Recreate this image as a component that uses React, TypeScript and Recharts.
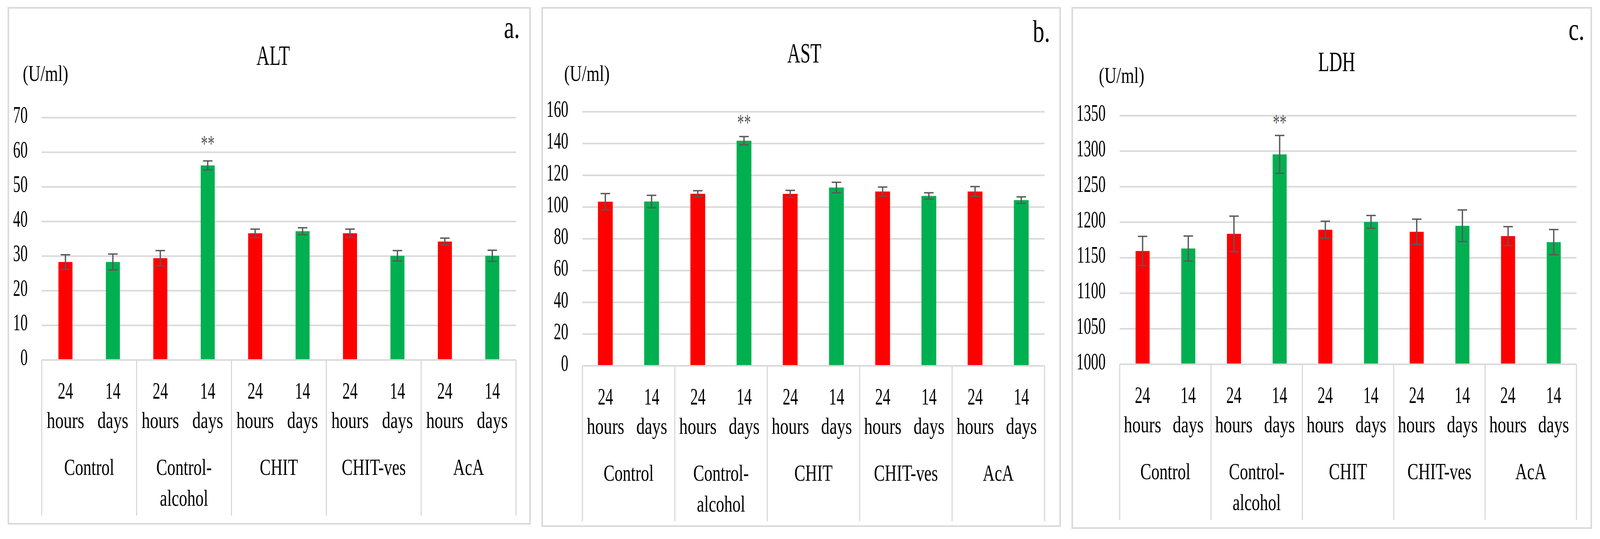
import React from "react";
import {
  BarChart,
  Bar,
  XAxis,
  YAxis,
  CartesianGrid,
  ErrorBar,
  Cell,
  LabelList,
} from "recharts";

const SERIF = "'Liberation Serif', 'DejaVu Serif', serif";
const GRID = "#d9d9d9";
const PAGE_W = 4217;
const PAGE_H = 1379;

const groups = ["Control", "Control-alcohol", "CHIT", "CHIT-ves", "AcA"];
const periods = ["24 hours", "14 days"];
const periodColors = ["#FF0000", "#00B050"];

const altMean = [28.3, 28.3, 29.4, 56.2, 36.6, 37.2, 36.6, 30.1, 34.2, 30.1];
const altErr = [2.1, 2.3, 2.2, 1.3, 1.2, 1.0, 1.2, 1.5, 1.0, 1.6];
const astMean = [103.4, 103.5, 108.4, 141.8, 108.3, 112.3, 109.8, 107.0, 109.8, 104.4];
const astErr = [5.1, 3.9, 1.9, 2.6, 2.2, 3.3, 2.8, 2.0, 3.1, 2.0];
const ldhMean = [1159.5, 1163, 1183.6, 1295.5, 1189.5, 1200.5, 1186.5, 1195, 1180.5, 1172];
const ldhErr = [20.6, 17.6, 25, 26.7, 11.9, 9, 17.8, 22.3, 13.3, 17.7];
const significance = ["", "", "", "**", "", "", "", "", "", ""];

const altTicks = [0, 10, 20, 30, 40, 50, 60, 70];
const astTicks = [0, 20, 40, 60, 80, 100, 120, 140, 160];
const ldhTicks = [1000, 1050, 1100, 1150, 1200, 1250, 1300, 1350];

const buildRows = (mean: number[], err: number[]) =>
  mean.map((v, i) => ({
    label: `${groups[Math.floor(i / 2)]} ${periods[i % 2]}`,
    group: groups[Math.floor(i / 2)],
    period: periods[i % 2],
    value: v,
    err: err[i],
    sig: significance[i],
    color: periodColors[i % 2],
  }));

// layout of the three panels (page pixels)
const panels = [
  {
    letter: "a.", title: "ALT", rows: buildRows(altMean, altErr), ticks: altTicks,
    left: 20, top: 18, width: 1379, height: 1324,
    yw: 90, mt: 283, mr: 39, mb: 421, barSize: 37,
    titleX: 700, titleY: 148, letterX: 1308, letterY: 79, unitX: 40, unitY: 189, starGap: 36,
  },
  {
    letter: "b.", title: "AST", rows: buildRows(astMean, astErr), ticks: astTicks,
    left: 1427, top: 18, width: 1369, height: 1330,
    yw: 108, mt: 268, mr: 43, mb: 412, barSize: 39,
    titleX: 693, titleY: 142, letterX: 1295, letterY: 89, unitX: 60, unitY: 189, starGap: 27,
  },
  {
    letter: "c.", title: "LDH", rows: buildRows(ldhMean, ldhErr), ticks: ldhTicks,
    left: 2824, top: 18, width: 1372, height: 1335,
    yw: 127, mt: 278, mr: 41, mb: 421, barSize: 37,
    titleX: 699, titleY: 164, letterX: 1310, letterY: 84, unitX: 72, unitY: 194, starGap: 62,
  },
];

function SText({ x, y, sx, size, anchor = "middle", fill = "#000", children }: any) {
  return (
    <text
      transform={`translate(${x},${y}) scale(${sx},1)`}
      textAnchor={anchor}
      fontSize={size}
      fontFamily={SERIF}
      fill={fill}
    >
      {children}
    </text>
  );
}

function YTick({ x, y, payload }: any) {
  return (
    <SText x={x} y={y + 13} sx={0.62} size={62} anchor="end">
      {payload.value}
    </SText>
  );
}

function CategoryTick(props: any) {
  const { x, y, rows, band } = props;
  const index = props.index ?? props.payload?.index;
  const row = rows[index];
  if (!row) return null;
  const [num, unit] = row.period.split(" ");
  const lines = row.group.length > 10 ? row.group.replace("-", "-\n").split("\n") : [row.group];
  return (
    <g>
      <SText x={x} y={y + 99} sx={0.66} size={61}>{num}</SText>
      <SText x={x} y={y + 174} sx={0.74} size={60}>{unit}</SText>
      {index % 2 === 0 && (
        <>
          <line x1={x - band / 2} x2={x - band / 2} y1={y} y2={y + 398} stroke={GRID} strokeWidth={3} />
          {lines.map((l: string, k: number) => (
            <SText key={k} x={x + band / 2} y={y + 294 + k * 79} sx={0.72} size={60}>
              {l}
            </SText>
          ))}
        </>
      )}
      {index === rows.length - 1 && (
        <line x1={x + band / 2} x2={x + band / 2} y1={y} y2={y + 398} stroke={GRID} strokeWidth={3} />
      )}
    </g>
  );
}

function Panel({ p }: any) {
  const band = (p.width - p.yw - p.mr) / p.rows.length;
  const renderStar = (lp: any) => {
    if (!lp.value) return null;
    return (
      <SText x={lp.x + lp.width / 2} y={lp.y - p.starGap} sx={0.6} size={60} fill="#595959">
        {lp.value}
      </SText>
    );
  };
  return (
    <div
      style={{
        position: "absolute",
        left: p.left,
        top: p.top,
        width: p.width,
        height: p.height,
        boxShadow: `inset 0 0 0 4px ${GRID}`,
      }}
    >
      <BarChart
        width={p.width}
        height={p.height}
        data={p.rows}
        margin={{ top: p.mt, right: p.mr, left: 0, bottom: 11 }}
      >
        <CartesianGrid vertical={false} stroke={GRID} strokeWidth={4} />
        <XAxis
          dataKey="label"
          interval={0}
          height={p.mb - 11}
          tickLine={false}
          tickSize={0}
          tickMargin={0}
          axisLine={{ stroke: GRID, strokeWidth: 4 }}
          tick={(tp: any) => <CategoryTick {...tp} rows={p.rows} band={band} />}
        />
        <YAxis
          type="number"
          width={p.yw}
          domain={[p.ticks[0], p.ticks[p.ticks.length - 1]]}
          ticks={p.ticks}
          interval={0}
          axisLine={false}
          tickLine={false}
          tickSize={0}
          tickMargin={37}
          tick={<YTick />}
        />
        <Bar dataKey="value" barSize={p.barSize} isAnimationActive={false}>
          {p.rows.map((r: any, i: number) => (
            <Cell key={i} fill={r.color} />
          ))}
          <ErrorBar
            dataKey="err"
            direction="y"
            width={12.5}
            strokeWidth={3.5}
            stroke="#595959"
            isAnimationActive={false}
          />
          <LabelList dataKey="sig" content={renderStar} />
        </Bar>
      </BarChart>
      <svg
        width={p.width}
        height={p.height}
        style={{ position: "absolute", left: 0, top: 0, pointerEvents: "none" }}
      >
        <SText x={p.titleX} y={p.titleY} sx={0.66} size={72}>{p.title}</SText>
        <SText x={p.letterX} y={p.letterY} sx={0.76} size={80} anchor="start">{p.letter}</SText>
        <SText x={p.unitX} y={p.unitY} sx={0.76} size={58} anchor="start">(U/ml)</SText>
      </svg>
    </div>
  );
}

export default function App() {
  // the captured picture is narrower than the reference page, so squeeze the figure to fit it
  const viewW = typeof window !== "undefined" ? window.innerWidth || PAGE_W : PAGE_W;
  const fit = Math.min(viewW, 4096) / PAGE_W;
  return (
    <div
      style={{
        position: "absolute",
        left: 0,
        top: 0,
        width: PAGE_W,
        height: PAGE_H,
        background: "#fff",
        fontFamily: SERIF,
        transform: `scale(${fit}, 1)`,
        transformOrigin: "0 0",
      }}
    >
      {panels.map((p) => (
        <Panel key={p.letter} p={p} />
      ))}
    </div>
  );
}
